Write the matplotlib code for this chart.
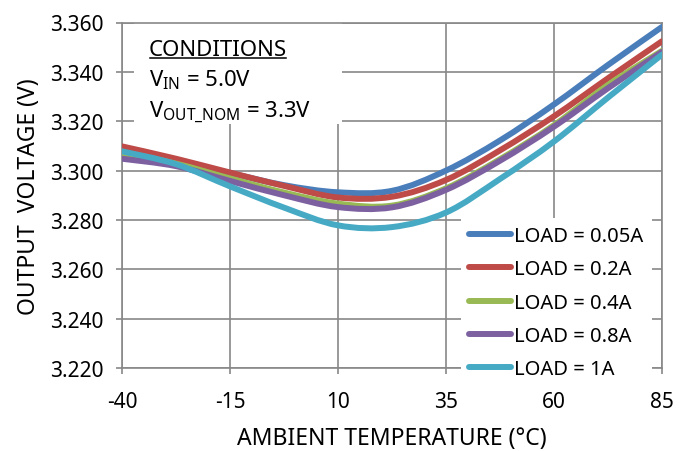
import matplotlib
matplotlib.use("Agg")
import matplotlib.pyplot as plt
from matplotlib.path import Path
from matplotlib.patches import PathPatch, Rectangle
from matplotlib.lines import Line2D
import numpy as np

plt.rcParams['font.family'] = ['Noto Sans', 'DejaVu Sans']
plt.rcParams['mathtext.default'] = 'regular'
plt.rcParams['axes.unicode_minus'] = False

# temperature (degC) and output voltage (V) per load
temps = [-40, -27.5, -15, -2.5, 10, 22.5, 35, 47.5, 60, 72.5, 85]
v_005 = [3.3083, 3.3040, 3.2990, 3.2941, 3.2912, 3.2918, 3.3000, 3.3122, 3.3268, 3.3428, 3.3582]
v_02 = [3.3098, 3.3048, 3.2992, 3.2938, 3.2891, 3.2894, 3.2962, 3.3082, 3.3220, 3.3374, 3.3524]
v_04 = [3.3070, 3.3028, 3.2968, 3.2911, 3.2866, 3.2858, 3.2928, 3.3046, 3.3184, 3.3347, 3.3485]
v_08 = [3.3048, 3.3018, 3.2958, 3.2900, 3.2852, 3.2851, 3.2922, 3.3040, 3.3178, 3.3334, 3.3481]
v_1 = [3.3078, 3.3026, 3.2936, 3.2850, 3.2778, 3.2771, 3.2830, 3.2966, 3.3118, 3.3296, 3.3470]

series = [
    ("LOAD = 0.05A", v_005, "#4A7EBB"),
    ("LOAD = 0.2A", v_02, "#BE4B48"),
    ("LOAD = 0.4A", v_04, "#98B954"),
    ("LOAD = 0.8A", v_08, "#7D60A0"),
    ("LOAD = 1A", v_1, "#46AAC5"),
]

x_ticks = [-40, -15, 10, 35, 60, 85]
y_ticks = [3.220, 3.240, 3.260, 3.280, 3.300, 3.320, 3.340, 3.360]


def smooth_path(xs, ys):
    # Excel-like smoothed line: Catmull-Rom segments as cubic Beziers
    p = np.column_stack([xs, ys])
    n = len(p)
    verts = [p[0]]
    codes = [Path.MOVETO]
    for i in range(n - 1):
        p0 = p[i - 1] if i > 0 else p[i]
        p3 = p[i + 2] if i + 2 < n else p[i + 1]
        c1 = p[i] + (p[i + 1] - p0) / 6.0
        c2 = p[i + 1] - (p3 - p[i]) / 6.0
        verts += [c1, c2, p[i + 1]]
        codes += [Path.CURVE4] * 3
    return Path(verts, codes)


W, H = 690, 452
fig = plt.figure(figsize=(W / 100, H / 100), dpi=100)
left, right, top, bottom = 122, 662, 23.5, 369
ax = fig.add_axes([left / W, 1 - bottom / H, (right - left) / W, (bottom - top) / H])

grid_c = "#888888"
ax.set_xlim(-40, 85)
ax.set_ylim(3.220, 3.360)
ax.set_xticks(x_ticks)
ax.set_yticks(y_ticks)
ax.set_yticklabels([f"{v:.3f}" for v in y_ticks])
ax.grid(True, color=grid_c, linewidth=1.2)
ax.set_axisbelow(True)
for s in ax.spines.values():
    s.set_color(grid_c)
    s.set_linewidth(1.2)
ax.tick_params(axis='both', colors=grid_c, labelcolor='black', labelsize=15,
               length=4.5, width=1.2, direction='out')
ax.tick_params(axis='x', pad=12)
ax.tick_params(axis='y', pad=9)

ax.set_xlabel("AMBIENT TEMPERATURE (°C)", fontsize=16.5, labelpad=10)
ax.set_ylabel("OUTPUT  VOLTAGE (V)", fontsize=16.5, labelpad=6)

# white box behind conditions text
ax.add_patch(Rectangle((134, H - 125), 208, 102, transform=None, facecolor='white',
                       edgecolor='none', zorder=1.5))

handles = []
for label, vals, color in series:
    patch = PathPatch(smooth_path(temps, vals), facecolor='none', edgecolor=color,
                      linewidth=4.3, capstyle='round', joinstyle='round', zorder=3)
    ax.add_patch(patch)
    handles.append(Line2D([], [], color=color, linewidth=4.3, solid_capstyle='round', label=label))

ax.text(149, H - 56, "CONDITIONS", transform=None, fontsize=16, zorder=4)
ax.text(149, H - 86, "V$_{IN}$ = 5.0V", transform=None, fontsize=16, zorder=4)
ax.text(149, H - 117, "V$_{OUT\\_NOM}$ = 3.3V", transform=None, fontsize=16, zorder=4)

fig.canvas.draw()
# underline CONDITIONS
t = [a for a in ax.texts if a.get_text() == "CONDITIONS"][0]
bb = t.get_window_extent()
fig.add_artist(Line2D([bb.x0 + 1, bb.x1 - 1], [H - 59, H - 59], transform=None,
                      color='black', linewidth=1.1))

ax_bb = ax.get_window_extent()
leg_x = (461 - ax_bb.x0) / ax_bb.width
leg_y = ((H - 219) - ax_bb.y0) / ax_bb.height
leg = ax.legend(handles=handles, loc='upper left', bbox_to_anchor=(leg_x, leg_y),
                borderaxespad=0, fontsize=14.5, frameon=True, fancybox=False,
                handlelength=2.1, handletextpad=0.15, labelspacing=0.66,
                borderpad=0.4)
leg.get_frame().set_edgecolor('none')
leg.get_frame().set_facecolor('white')
leg.get_frame().set_alpha(1)
leg.set_zorder(5)

fig.savefig("out.png", dpi=100)
